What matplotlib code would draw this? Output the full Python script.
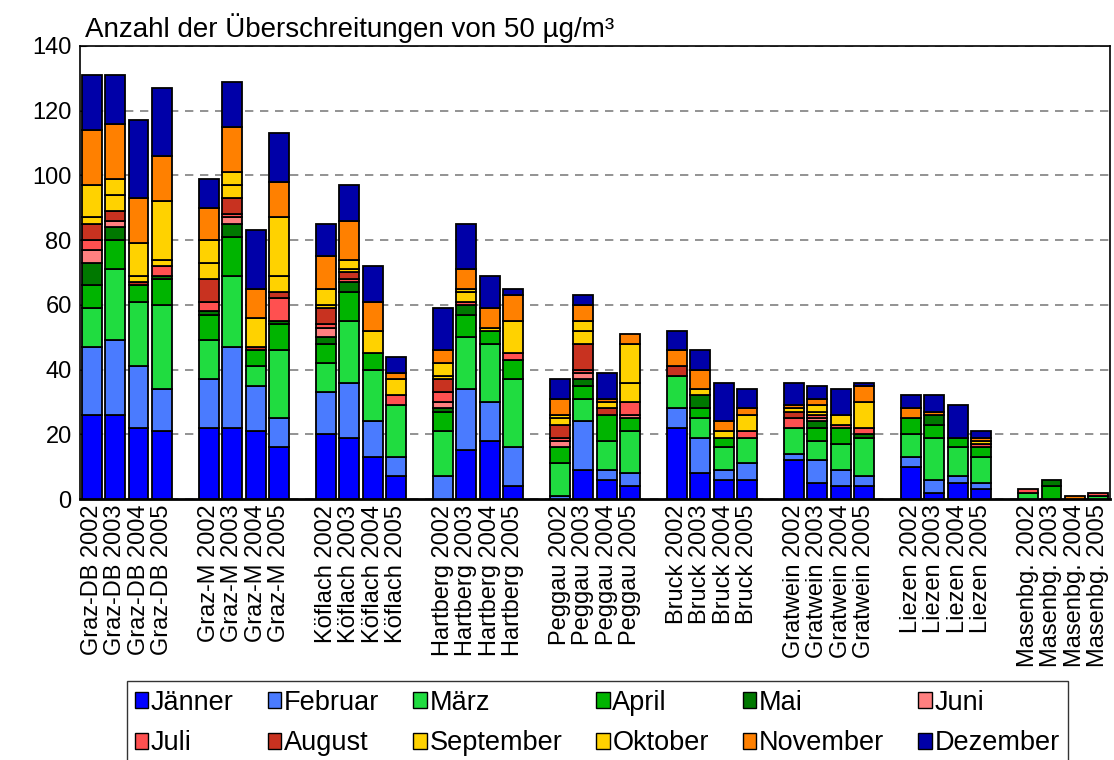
import numpy as np
import matplotlib.pyplot as plt
from matplotlib.patches import Patch

plt.rcParams['font.family'] = ['Liberation Sans', 'DejaVu Sans']

stations = ["Graz-DB", "Graz-M", "Köflach", "Hartberg", "Peggau",
            "Bruck", "Gratwein", "Liezen", "Masenbg."]
years = [2002, 2003, 2004, 2005]

months = ["Jänner", "Februar", "März", "April", "Mai", "Juni",
          "Juli", "August", "September", "Oktober", "November", "Dezember"]
colors = ["#0000ff", "#4a7bff", "#20dc40", "#00b400", "#007800", "#ff8080",
          "#ff5050", "#c83220", "#ffd200", "#ffd200", "#ff8000", "#0000a8"]

# Überschreitungen je Monat, Reihenfolge: Station x Jahr (2002-2005)
jaenner = [26, 26, 22, 21, 22, 22, 21, 16, 20, 19, 13, 7, 0, 15, 18, 4, 0, 9, 6, 4,
           22, 8, 6, 6, 12, 5, 4, 4, 10, 2, 5, 3, 0, 0, 0, 0]
februar = [21, 23, 19, 13, 15, 25, 14, 9, 13, 17, 11, 6, 7, 19, 12, 12, 1, 15, 3, 4,
           6, 11, 3, 5, 2, 7, 5, 3, 3, 4, 2, 2, 0, 0, 0, 0]
maerz = [12, 22, 20, 26, 12, 22, 6, 21, 9, 19, 16, 16, 14, 16, 18, 21, 10, 7, 9, 13,
         10, 6, 7, 8, 8, 6, 8, 12, 7, 13, 9, 8, 2, 0, 0, 1]
april = [7, 9, 5, 8, 8, 12, 5, 8, 6, 9, 5, 0, 6, 7, 4, 6, 5, 4, 8, 4,
         0, 3, 3, 0, 0, 4, 5, 0, 5, 4, 3, 3, 0, 4, 0, 0]
mai = [7, 4, 0, 1, 1, 4, 0, 1, 2, 3, 0, 0, 1, 3, 0, 0, 0, 2, 0, 0,
       0, 4, 0, 0, 0, 2, 0, 1, 0, 3, 0, 0, 0, 2, 0, 0]
juni = [4, 2, 0, 0, 0, 2, 0, 0, 3, 0, 0, 0, 2, 0, 0, 0, 2, 2, 0, 1,
        0, 0, 0, 0, 0, 1, 0, 0, 0, 0, 0, 0, 0, 0, 0, 0]
juli = [3, 0, 0, 3, 3, 1, 0, 7, 1, 1, 0, 3, 3, 1, 0, 2, 1, 1, 0, 4,
        0, 0, 0, 2, 3, 1, 1, 2, 0, 0, 0, 1, 1, 0, 0, 1]
august = [5, 3, 1, 0, 7, 5, 1, 2, 5, 2, 0, 0, 4, 0, 0, 0, 4, 8, 2, 0,
          3, 0, 0, 0, 2, 0, 0, 0, 0, 0, 0, 0, 0, 0, 0, 0]
september = [2, 5, 2, 2, 5, 4, 0, 5, 1, 1, 0, 0, 1, 3, 0, 0, 2, 4, 0, 6,
             0, 0, 0, 0, 0, 1, 0, 0, 0, 0, 0, 0, 0, 0, 0, 0]
oktober = [10, 5, 10, 18, 7, 4, 9, 18, 5, 3, 7, 5, 4, 1, 1, 10, 1, 3, 2, 12,
           0, 2, 2, 5, 1, 2, 3, 8, 0, 0, 0, 1, 0, 0, 0, 0]
november = [17, 17, 14, 14, 10, 14, 9, 11, 10, 12, 9, 2, 4, 6, 6, 8, 5, 5, 1, 3,
            5, 6, 3, 2, 1, 2, 0, 5, 3, 1, 0, 1, 0, 0, 1, 0]
dezember = [17, 15, 24, 21, 9, 14, 18, 15, 10, 11, 11, 5, 13, 14, 10, 2, 6, 3, 8, 0,
            6, 6, 12, 6, 7, 4, 8, 1, 4, 5, 10, 2, 0, 0, 0, 0]

series = [jaenner, februar, maerz, april, mai, juni, juli, august,
          september, oktober, november, dezember]

labels = [f"{s} {y}" for s in stations for y in years]
x = np.array([g * 5 + j for g in range(len(stations)) for j in range(len(years))])

fig = plt.figure(figsize=(11.14, 7.6), dpi=100)
ax = fig.add_axes([0.0718, 0.3434, 0.9246, 0.5961])

bottom = np.zeros(len(x))
for vals, col in zip(series, colors):
    v = np.array(vals, dtype=float)
    m = v > 0
    ax.bar(x[m], v[m], bottom=bottom[m], width=0.85, color=col,
           edgecolor="black", linewidth=1.3, zorder=3)
    bottom += v

ax.set_xlim(-0.5, 43.5)
ax.set_ylim(0, 140)
ax.set_yticks(range(0, 141, 20))
ax.yaxis.grid(True, linestyle=(0, (5, 4)), color="#808080", linewidth=1.2, zorder=0)
ax.set_xticks(x)
ax.set_xticklabels(labels, rotation=90, fontsize=17)
ax.tick_params(axis="x", length=0, pad=4)
ax.tick_params(axis="y", direction="in", length=4, labelsize=17, pad=6)
for sp in ax.spines.values():
    sp.set_linewidth(1.2)
ax.spines["bottom"].set_linewidth(2)

fig.text(0.076, 0.963, "Anzahl der Überschreitungen von 50 µg/m³",
         fontsize=20, ha="left", va="center")

handles = [Patch(facecolor=c, edgecolor="black", linewidth=1) for c in colors]
order = [0, 6, 1, 7, 2, 8, 3, 9, 4, 10, 5, 11]
leg = fig.legend([handles[i] for i in order], [months[i] for i in order],
                 ncol=6, loc="lower center", bbox_to_anchor=(0.536, -0.006),
                 fontsize=19.5, frameon=True, fancybox=False, shadow=False,
                 handlelength=0.5, handleheight=0.5, handletextpad=0.1,
                 columnspacing=1.25, labelspacing=0.55, borderpad=0.3,
                 borderaxespad=0)
leg.get_frame().set_edgecolor("black")
leg.get_frame().set_linewidth(1)

fig.savefig("out.png", dpi=100)
